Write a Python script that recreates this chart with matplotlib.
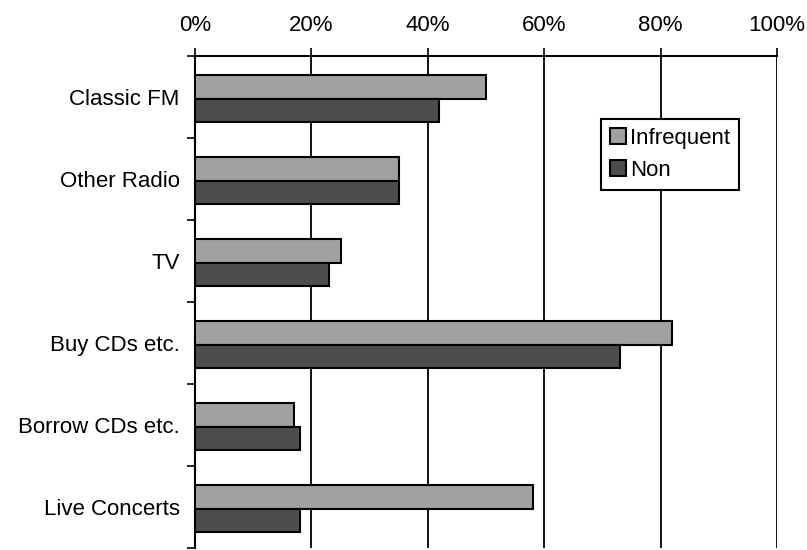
import matplotlib
matplotlib.use("Agg")
import matplotlib.pyplot as plt
import numpy as np
from matplotlib.ticker import FixedLocator

# data
categories = ["Classic FM", "Other Radio", "TV", "Buy CDs etc.", "Borrow CDs etc.", "Live Concerts"]
infrequent = [50, 35, 25, 82, 17, 58]
non = [42, 35, 23, 73, 18, 18]
tick_labels = ["0%", "20%", "40%", "60%", "80%", "100%"]

plt.rcParams["font.family"] = ["Liberation Sans", "DejaVu Sans"]
fs = 16

fig = plt.figure(figsize=(8.07, 5.5), dpi=100)
ax = fig.add_axes([195 / 807, 2 / 550, 582 / 807, 492 / 550])

y = np.arange(len(categories))
h = 0.29
ax.barh(y - h / 2 + 0.02, infrequent, height=h, color="#a0a0a0", edgecolor="black", linewidth=1.5, label="Infrequent", zorder=3)
ax.barh(y + h / 2 + 0.02, non, height=h, color="#4d4d4d", edgecolor="black", linewidth=1.5, label="Non", zorder=3)

ax.set_xlim(0, 100)
ax.set_ylim(len(categories) - 0.5, -0.5)
ax.xaxis.tick_top()
ax.set_xticks(range(0, 101, 20))
ax.set_xticklabels(tick_labels, fontsize=fs)
ax.tick_params(axis="x", direction="out", length=6, width=1.2, pad=8.5)
ax.xaxis.grid(True, color="black", linewidth=1.3, zorder=0)

ax.set_yticks(y)
ax.set_yticklabels(categories, fontsize=fs)
ax.tick_params(axis="y", which="major", length=0, pad=11)
ax.yaxis.set_minor_locator(FixedLocator(np.arange(-0.5, len(categories), 1)))
ax.tick_params(axis="y", which="minor", direction="out", length=6, width=1.2)

ax.spines["right"].set_visible(False)
ax.spines["bottom"].set_visible(False)
ax.spines["left"].set_linewidth(1.5)
ax.spines["top"].set_linewidth(1.5)

leg = ax.legend(loc="upper left", bbox_to_anchor=(0.698, 0.872), fontsize=fs,
                frameon=True, fancybox=False, edgecolor="black", framealpha=1,
                handlelength=0.7, handleheight=0.7, handletextpad=0.2,
                borderpad=0.4, labelspacing=0.5, borderaxespad=0)
leg.get_frame().set_linewidth(1.5)
leg.set_zorder(5)

fig.savefig("out.png", dpi=100)
